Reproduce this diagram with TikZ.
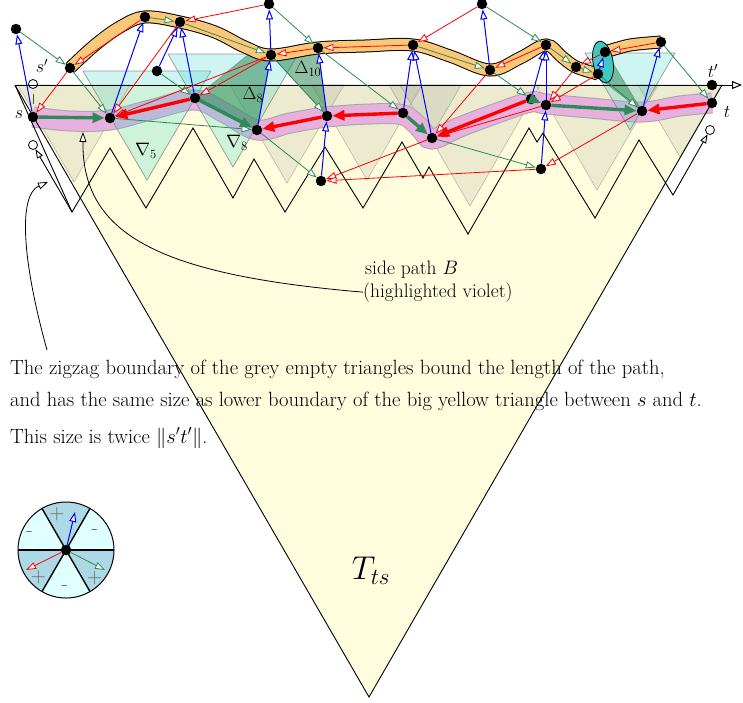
\RequirePackage{fix-cm}
\documentclass[tikz,border=0pt]{standalone}
\usetikzlibrary{arrows.meta}
\pgfdeclarelayer{bg}
\pgfsetlayers{bg,main}
\definecolor{sg}{RGB}{46,139,87}
\definecolor{ylw}{RGB}{255,253,222}
\definecolor{pinkb}{RGB}{232,176,222}
\definecolor{orng}{RGB}{250,200,120}
\definecolor{cyt}{RGB}{60,215,205}
\definecolor{lb}{RGB}{173,216,230}
\definecolor{lc}{RGB}{224,255,255}
\definecolor{tealb}{RGB}{64,200,195}
\begin{document}
\begin{tikzpicture}[x=1pt,y=-1pt,
  nd/.style={circle,fill=black,inner sep=0pt,minimum size=10.5pt},
  oc/.style={circle,draw=black,fill=white,inner sep=0pt,minimum size=9pt,line width=0.8pt},
  otip/.style={-{Triangle[length=10pt,width=7pt,fill=white]}},
  ab/.style={draw=blue,line width=1pt,otip},
  ar/.style={draw=red,line width=0.8pt,otip},
  ag/.style={draw=sg,line width=0.8pt,otip},
  tr/.style={draw=red,line width=3.4pt,-{Triangle[length=12pt,width=10pt]}},
  tg/.style={draw=sg,line width=3.4pt,-{Triangle[length=12pt,width=10pt]}},
  greytri/.style={fill=gray,fill opacity=0.15,draw=gray,draw opacity=0.5,line width=0.6pt},
  cyantri/.style={fill=cyt,fill opacity=0.25,draw=gray,draw opacity=0.8,line width=0.7pt},
  darktri/.style={fill=sg,fill opacity=0.55,draw=black!60,draw opacity=0.5,line width=0.6pt},
  lbl/.style={font=\fontsize{18}{21}\selectfont},
  txt/.style={font=\fontsize{20.6}{24}\selectfont,anchor=base west,inner sep=0pt},
  stxt/.style={font=\fontsize{19.5}{23}\selectfont,anchor=base west,inner sep=0pt},
  lgd/.style={font=\fontsize{21}{24}\selectfont,text=black!60},
]
\useasboundingbox (0,0) rectangle (743,702);

% nodes
\node[nd] (A1) at (16,29) {};
\node[nd] (SP) at (70,68) {};
\node[nd] (S) at (33,117) {};
\node[nd] (B1) at (110,118) {};
\node[nd] (U1) at (145,17) {};
\node[nd] (U2) at (180,22) {};
\node[nd] (M1) at (157,71) {};
\node[nd] (B2) at (195,98) {};
\node[nd] (T1) at (269,4) {};
\node[nd] (U3) at (271,55) {};
\node[nd] (U4) at (318,48) {};
\node[nd] (B3) at (257,130) {};
\node[nd] (B4) at (327,116) {};
\node[nd] (L1) at (321,181) {};
\node[nd] (U5) at (413,45) {};
\node[nd] (B5) at (403,113) {};
\node[nd] (B6) at (432,138) {};
\node[nd] (T2) at (482,4) {};
\node[nd] (U6) at (490,70) {};
\node[nd] (U7) at (546,45) {};
\node[nd] (B7) at (531,99) {};
\node[nd] (B8) at (546,105) {};
\node[nd] (L2) at (541,169) {};
\node[nd] (U8) at (576,67) {};
\node[nd] (U9) at (605,52) {};
\node[nd] (U10) at (598,74) {};
\node[nd] (U11) at (661,42) {};
\node[nd] (B9) at (642,111) {};
\node[nd] (TP) at (712,85) {};
\node[nd] (T) at (712,103) {};
\node[oc] (C1) at (33,84) {};
\node[oc] (C2) at (33,145) {};
\node[oc] (C3) at (710,130) {};

\begin{pgfonlayer}{bg}
% big yellow triangle
\fill[ylw] (15,85) -- (722,85) -- (369,697) -- cycle;
% grey empty triangles
\path[greytri] (18,85) -- (130,85) -- (74,182) -- cycle;
\path[greytri] (230,85) -- (344,85) -- (287,183) -- cycle;
\path[greytri] (312,85) -- (422,85) -- (367,180) -- cycle;
\path[greytri] (389,85) -- (461,85) -- (425,147) -- cycle;
\path[greytri] (400,85) -- (540,85) -- (470,206) -- cycle;
\path[greytri] (536,85) -- (658,85) -- (597,190) -- cycle;
\path[greytri] (638,85) -- (722,85) -- (680,157) -- cycle;
% pink side path B
\draw[gray!70,line width=21pt] plot[smooth,tension=0.6] coordinates {(33,117) (70,121) (110,120) (150,110) (195,100) (225,113) (257,130) (290,123) (327,117) (370,114) (403,115) (420,128) (432,139) (460,127) (500,112) (531,102) (546,104) (590,108) (642,112) (680,106) (712,103)};
\draw[pinkb,line width=19pt] plot[smooth,tension=0.6] coordinates {(33,117) (70,121) (110,120) (150,110) (195,100) (225,113) (257,130) (290,123) (327,117) (370,114) (403,115) (420,128) (432,139) (460,127) (500,112) (531,102) (546,104) (590,108) (642,112) (680,106) (712,103)};
% cyan triangles
\path[cyantri] (83,71) -- (211,71) -- (147,180) -- cycle;
\path[cyantri] (168,54) -- (298,54) -- (233,167) -- cycle;
\path[cyantri] (585,53) -- (675,53) -- (630,130) -- cycle;
% dark green triangles
\path[darktri] (195,98) -- (250,53) -- (271,55) -- (257,130) -- cycle;
\path[darktri] (271,55) -- (318,48) -- (327,116) -- cycle;
\path[darktri] (608,55) -- (596,76) -- (642,111) -- cycle;
% orange side path
\draw[black,line width=13pt] plot[smooth,tension=0.6] coordinates {(70,68) (95,45) (120,27) (145,17) (180,22) (215,32) (245,47) (271,55) (318,48) (365,46) (413,45) (450,56) (490,70) (520,58) (546,45) (562,57) (576,67) (598,74)};
\draw[orng,line width=11pt] plot[smooth,tension=0.6] coordinates {(70,68) (95,45) (120,27) (145,17) (180,22) (215,32) (245,47) (271,55) (318,48) (365,46) (413,45) (450,56) (490,70) (520,58) (546,45) (562,57) (576,67) (598,74)};
\draw[black,line width=13pt] plot[smooth] coordinates {(605,52) (630,45) (661,42)};
\draw[orng,line width=11pt] plot[smooth] coordinates {(605,52) (630,45) (661,42)};
\draw[fill=tealb,line width=0.8pt,rotate around={10:(603,62)}] (603,62) ellipse (10 and 21);
% black outlines
\draw[line width=0.9pt] (15,85) -- (369,697) -- (722,85);
\draw[line width=0.9pt] (15,85) -- (72,212);
\end{pgfonlayer}

% axis
\draw[line width=1pt,-{Triangle[open,length=10pt,width=8pt,fill=white]}] (15,85) -- (742,85);
\draw[black!70,line width=0.8pt] (33,94) -- (33,104);
% zigzag
\draw[line width=0.9pt,{Triangle[length=9pt,width=6.5pt,fill=white]}-{Triangle[length=9pt,width=6.5pt,fill=white]}]
  (C2) -- (72,212) -- (110,148) -- (146,208) -- (193,128) -- (233,198) -- (254,159) -- (285,212) -- (325,147) -- (363,208) -- (402,142) -- (423,178) -- (429,167) -- (468,234) -- (529,128) -- (537,142) -- (543,133) -- (595,218) -- (639,140) -- (673,195) -- (C3);

% blue
\draw[ab] (S) -- (A1);
\draw[ab] (B1) -- (U1);
\draw[ab] (B2) -- (U2);
\draw[ab] (M1) -- (U2);
\draw[ab] (U3) -- (T1);
\draw[ab] (B3) -- (U3);
\draw[ab] (B4) -- (U4);
\draw[ab] (L1) -- (B4);
\draw[ab] (B5) -- (U5);
\draw[ab] (B6) -- (U5);
\draw[ab] (U6) -- (T2);
\draw[ab] (B7) -- (U7);
\draw[ab] (B8) -- (U7);
\draw[ab] (L2) -- (B8);
\draw[ab] (U10) -- (U9);
\draw[ab] (B9) -- (U11);
% green thin
\draw[ag] (A1) -- (SP);
\draw[ag] (SP) -- (B1);
\draw[ag] (U1) -- (U2);
\draw[ag] (U2) -- (U3);
\draw[ag] (M1) -- (B2);
\draw[ag] (B1) -- (B3);
\draw[ag] (T1) -- (U4);
\draw[ag] (U3) -- (B4);
\draw[ag] (U4) -- (B5);
\draw[ag] (B3) -- (L1);
\draw[ag] (U5) -- (U6);
\draw[ag] (U6) -- (B7);
\draw[ag] (B6) -- (L2);
\draw[ag] (T2) -- (U7);
\draw[ag] (U7) -- (U8);
\draw[ag] (U8) -- (U10);
\draw[ag] (U10) -- (B9);
\draw[ag] (U11) -- (T);
% red thin
\draw[ar] (SP) -- (S);
\draw[ar] (U1) -- (SP);
\draw[ar] (T1) -- (U2);
\draw[ar] (U2) -- (B1);
\draw[ar] (U3) -- (B1);
\draw[ar] (U3) -- (B2);
\draw[ar] (U4) -- (U3);
\draw[ar] (U5) -- (U4);
\draw[ar] (T2) -- (U5);
\draw[ar] (U6) -- (B6);
\draw[ar] (U7) -- (U6);
\draw[ar] (B6) -- (L1);
\draw[ar] (L2) -- (L1);
\draw[ar] (B9) -- (L2);
\draw[ar] (U8) -- (B8);
\draw[ar] (U10) -- (B8);
\draw[ar] (B8) -- (B6);
\draw[ar] (U9) -- (U8);
\draw[ar] (U11) -- (U9);
% thick path
\draw[tg] (S) -- (B1);
\draw[tr] (B2) -- (B1);
\draw[tg] (B2) -- (B3);
\draw[tr] (B4) -- (B3);
\draw[tr] (B5) -- (B4);
\draw[tg] (B5) -- (B6);
\draw[tr] (B7) -- (B6);
\draw[tg] (B7) -- (B8);
\draw[tg] (B8) -- (B9);
\draw[tr] (T) -- (B9);

% labels
\node[lbl] (ls) at (19,115) {$s$};
\node[lbl] (lsp) at (42,66) {$s'$};
\node[lbl] (ltp) at (713,71) {$t'$};
\node[lbl] (lt) at (727,112) {$t$};
\node[lbl] (n5) at (146,151) {$\nabla_5$};
\node[lbl] (n8) at (237,143) {$\nabla_8$};
\node[lbl] (d8) at (253,95) {$\Delta_8$};
\node[lbl] (d10) at (308,69) {$\Delta_{10}$};
\node[font=\fontsize{33}{40}\selectfont] (Tts) at (371,571) {$T_{ts}$};

% annotation texts
\node[stxt] (sb1) at (365,274) {side path $B$};
\node[stxt] (sb2) at (363,297) {(highlighted violet)};
\node[txt] (t1) at (10,374) {The zigzag boundary of the grey empty triangles bound the length of the path,};
\node[txt] (t2) at (10,406) {and has the same size as lower boundary of the big yellow triangle between $s$ and $t$.};
\node[txt] (t3) at (10,443) {This size is twice $\|s't'\|$.};
\coordinate (zz) at (48,182);
\coordinate (bb) at (83,132);
\draw[line width=0.8pt,-{Triangle[length=10pt,width=7pt,fill=white]}] (47,350) .. controls (22,260) and (18,195) .. (zz);
\draw[line width=0.8pt,-{Triangle[length=10pt,width=7pt,fill=white]}] (sb2.west) .. controls (160,275) and (82,235) .. (bb);

% legend
\begin{scope}[shift={(66,550)},yscale=-1]
\fill[lc] (0,0) -- (0:48) arc (0:60:48) -- cycle;
\fill[lb] (0,0) -- (60:48) arc (60:120:48) -- cycle;
\fill[lc] (0,0) -- (120:48) arc (120:180:48) -- cycle;
\fill[lb] (0,0) -- (180:48) arc (180:240:48) -- cycle;
\fill[lc] (0,0) -- (240:48) arc (240:300:48) -- cycle;
\fill[lb] (0,0) -- (300:48) arc (300:360:48) -- cycle;
\draw[line width=1.4pt] (180:48) -- (0:48);
\draw[line width=1.4pt] (120:48) -- (300:48);
\draw[line width=1.4pt] (60:48) -- (240:48);
\draw[line width=1pt] (0,0) circle (48);
\node[lgd] (p1) at (104:37) {+};
\node[lgd] (m1) at (156:40) {-};
\node[lgd] (m2) at (32:34) {-};
\node[lgd] (p2) at (225:39) {+};
\node[lgd] (m3) at (268:38) {-};
\node[lgd] (p3) at (316:40) {+};
\node[nd] (O) at (0,0) {};
\coordinate (ob) at (9,38);
\coordinate (orr) at (-40,-20);
\coordinate (og) at (39,-20);
\draw[ab] (O) -- (ob);
\draw[ar] (O) -- (orr);
\draw[ag] (O) -- (og);
\end{scope}
\end{tikzpicture}
\end{document}
